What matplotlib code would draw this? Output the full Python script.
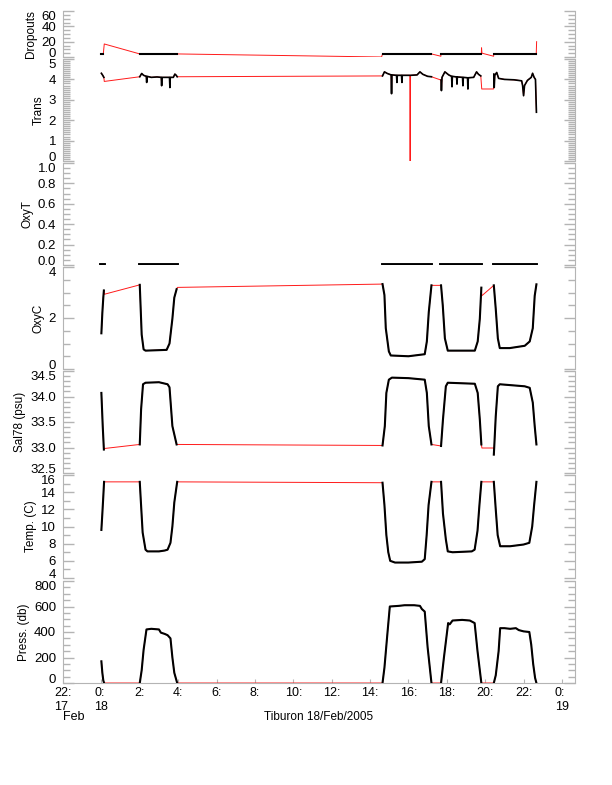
import numpy as np
import matplotlib
matplotlib.use("Agg")
import matplotlib.pyplot as plt
from matplotlib.ticker import MultipleLocator

plt.rcParams['font.family'] = ['Liberation Sans', 'DejaVu Sans']

# hours after 00:00 18/Feb/2005; windows where the instrument logged good data
windows = [(0.0, 0.14), (2.0, 3.95), (14.65, 17.2), (17.7, 19.8), (20.45, 22.67)]

drop_t = [0.0, 0.1, 0.15, 2.0, 2.5, 3.0, 3.5, 3.95, 3.96, 14.6,
          14.65, 15.5, 16.5, 17.2, 17.69, 17.7, 18.5, 19.3, 19.8, 19.81, 19.83, 20.44,
          20.45, 21.5, 22.66, 22.68]
drop_v = [4, 4, 17, 4, 4, 4, 4, 4, 4, 0,
          4, 4, 4, 4, 1, 4, 4, 4, 4, 12, 5, 1,
          4, 4, 4, 20]

trans_t = [0.0, 0.07, 0.13, 0.15,
           2.0, 2.1, 2.2, 2.34, 2.36, 2.38, 2.6, 2.9, 3.12, 3.14, 3.16, 3.4, 3.55, 3.57, 3.59,
           3.75, 3.83, 3.9, 3.95,
           14.65, 14.75, 14.9, 15.1, 15.12, 15.14, 15.38, 15.4, 15.42, 15.64, 15.66, 15.68,
           16.07, 16.09, 16.11, 16.45, 16.6, 16.75, 17.0, 17.2, 17.69,
           17.7, 17.72, 17.75, 17.9, 18.1, 18.25, 18.27, 18.29, 18.51, 18.53, 18.55,
           18.82, 18.84, 18.86, 19.08, 19.1, 19.12, 19.4, 19.55, 19.65, 19.77, 19.82, 20.43,
           20.45, 20.47, 20.5, 20.6, 20.7, 21.0, 21.5, 21.9, 21.95, 22.0, 22.05, 22.2,
           22.4, 22.47, 22.55, 22.62, 22.67]
trans_v = [4.3, 4.2, 4.1, 3.9,
           4.13, 4.29, 4.2, 4.15, 3.85, 4.15, 4.1, 4.12, 4.1, 3.69, 4.1, 4.1, 4.1, 3.6, 4.1,
           4.1, 4.26, 4.2, 4.13,
           4.17, 4.37, 4.29, 4.22, 3.3, 4.22, 4.2, 3.85, 4.2, 4.2, 3.85, 4.2,
           4.2, 0.0, 4.2, 4.22, 4.37, 4.25, 4.15, 4.13, 3.97,
           3.97, 3.45, 4.1, 4.37, 4.22, 4.15, 3.64, 4.15, 4.12, 3.77, 4.12,
           4.1, 3.69, 4.1, 4.08, 3.53, 4.08, 4.1, 4.37, 4.25, 4.17, 3.53, 3.53,
           4.26, 3.6, 4.2, 4.34, 4.05, 4.0, 3.98, 3.93, 3.7, 3.2, 3.7, 3.95,
           4.1, 4.3, 4.1, 4.0, 2.39]
trans_red_only = [16.09]

oxyt_t = [0.0, 0.14, 2.0, 3.95, 14.65, 17.2, 17.7, 19.8, 20.45, 22.67]
oxyt_v = [0, 0, 0, 0, 0, 0, 0, 0, 0, 0]

oxyc_t = [0.0, 0.05, 0.10, 0.13, 0.15,
          2.0, 2.1, 2.2, 2.3, 3.4, 3.55, 3.7, 3.8, 3.92, 3.96,
          14.65, 14.75, 14.82, 14.98, 15.08, 16.0, 16.85, 16.96, 17.06, 17.2,
          17.7, 17.79, 17.9, 18.05, 19.46, 19.61, 19.72, 19.8, 19.82,
          20.45, 20.55, 20.66, 20.76, 21.28, 22.06, 22.32, 22.48, 22.58, 22.67]
oxyc_v = [1.4, 2.2, 2.8, 3.08, 2.93,
          3.3, 1.35, 0.77, 0.72, 0.75, 1.0, 1.97, 2.8, 3.13, 3.2,
          3.33, 2.9, 1.6, 0.69, 0.53, 0.5, 0.58, 1.08, 2.23, 3.28,
          3.28, 2.49, 1.2, 0.72, 0.72, 1.08, 1.97, 3.19, 2.87,
          3.28, 2.36, 1.2, 0.82, 0.82, 0.91, 1.08, 1.6, 2.87, 3.32]

sal_t = [0.0, 0.07, 0.13, 0.15,
         2.0, 2.07, 2.17, 2.3, 3.0, 3.45, 3.55, 3.7, 3.92,
         14.65, 14.77, 14.85, 14.98, 15.14, 16.0, 16.85, 16.96, 17.06, 17.2,
         17.7, 17.8, 17.95, 18.05, 19.46, 19.61, 19.72, 19.8, 19.83, 20.44,
         20.45, 20.47, 20.55, 20.66, 20.76, 22.06, 22.32, 22.48, 22.58, 22.67]
sal_v = [34.07, 33.42, 32.96, 32.98,
         33.06, 33.75, 34.24, 34.27, 34.28, 34.24, 34.18, 33.42, 33.06,
         33.04, 33.42, 34.07, 34.33, 34.37, 34.36, 34.33, 34.07, 33.42, 33.06,
         33.03, 33.55, 34.2, 34.27, 34.25, 34.07, 33.55, 33.06, 32.99, 32.99,
         32.86, 33.0, 33.61, 34.2, 34.24, 34.2, 34.17, 33.88, 33.42, 33.06]

temp_t = [0.0, 0.05, 0.10, 0.14,
          2.0, 2.05, 2.15, 2.3, 2.4, 3.0, 3.3, 3.45, 3.6, 3.7, 3.8, 3.95,
          14.65, 14.75, 14.85, 14.95, 15.05, 15.3, 16.0, 16.7, 16.85, 16.95, 17.05, 17.2,
          17.7, 17.8, 17.95, 18.05, 18.3, 19.3, 19.45, 19.6, 19.7, 19.8,
          20.45, 20.55, 20.65, 20.78, 21.3, 22.0, 22.3, 22.45, 22.55, 22.67]
temp_v = [9.6, 11.5, 13.5, 15.2,
          15.2, 13.2, 9.3, 7.3, 7.1, 7.1, 7.2, 7.3, 8.1, 10.0, 12.8, 15.2,
          15.1, 12.5, 9.0, 7.0, 6.0, 5.8, 5.8, 5.9, 6.2, 9.0, 12.5, 15.2,
          15.2, 11.5, 8.5, 7.1, 7.0, 7.1, 7.3, 9.5, 12.5, 15.2,
          15.2, 12.0, 9.0, 7.7, 7.7, 7.9, 8.1, 10.0, 12.5, 15.2]

press_t = [0.0, 0.05, 0.10, 0.14,
           2.0, 2.1, 2.2, 2.35, 2.6, 3.0, 3.1, 3.3, 3.45, 3.6, 3.7, 3.8, 3.95,
           14.65, 14.75, 14.9, 15.03, 15.5, 15.8, 16.3, 16.6, 16.7, 16.85, 17.0, 17.2,
           17.7, 17.85, 18.07, 18.15, 18.3, 18.8, 19.2, 19.45, 19.6, 19.8,
           20.45, 20.55, 20.7, 20.78, 21.0, 21.3, 21.6, 21.75, 22.0, 22.3, 22.4, 22.5, 22.6, 22.67]
press_v = [170, 80, 20, 0,
           0, 100, 260, 420, 425, 420, 395, 385, 375, 350, 200, 80, 0,
           0, 120, 380, 600, 605, 610, 610, 605, 580, 560, 280, 0,
           0, 200, 470, 460, 490, 495, 490, 470, 250, 0,
           0, 60, 250, 430, 430, 425, 430, 415, 405, 400, 300, 150, 40, 0]

panels = [
    # label, t, v, red only, ylim, major, minor, pixel top, pixel bottom
    ('Dropouts', drop_t, drop_v, [], (0, 60), [0, 20, 40, 60], 5, 11, 57),
    ('Trans', trans_t, trans_v, trans_red_only, (0, 5), [0, 1, 2, 3, 4, 5], 0.1, 59, 161),
    ('OxyT', oxyt_t, oxyt_v, [], (0, 1), [0, 0.2, 0.4, 0.6, 0.8, 1.0], 0.05, 163, 265),
    ('OxyC', oxyc_t, oxyc_v, [], (0, 4), [0, 2, 4], 0.5, 267, 369),
    ('Sal78 (psu)', sal_t, sal_v, [], (32.5, 34.5), [32.5, 33.0, 33.5, 34.0, 34.5], 0.1, 371, 473),
    ('Temp. (C)', temp_t, temp_v, [], (4, 16), [4, 6, 8, 10, 12, 14, 16], 1, 475, 578),
    ('Press. (db)', press_t, press_v, [], (0, 800), [0, 200, 400, 600, 800], 50, 581, 683),
]
tick_fmt = {'OxyT': '{:.1f}', 'Sal78 (psu)': '{:.1f}'}

xticks = list(range(-2, 25, 2))
xlabels = ['22:\n17', '0:\n18'] + ['%d:' % h for h in range(2, 24, 2)] + ['0:\n19']

W, H = 612, 785
gray = '#b4b4b4'
fig = plt.figure(figsize=(W / 100, H / 100), dpi=100)

for i, (lab, t, v, red_only, ylim, major, minor, top, bot) in enumerate(panels):
    ax = fig.add_axes([63 / W, 1 - bot / H, (575 - 63) / W, (bot - top) / H])
    t = np.array(t, float)
    v = np.array(v, float)
    ax.plot(t, v, color='#ff1a1a', lw=0.7, zorder=2)
    keep = np.ones(len(t), bool)
    for r in red_only:
        keep &= ~np.isclose(t, r)
    lw = 2.8 if lab == 'OxyT' else (1.2 if lab == 'Trans' else 1.5)
    for a, b in windows:
        m = keep & (t >= a - 1e-6) & (t <= b + 1e-6)
        ax.plot(t[m], v[m], color='black', lw=lw, zorder=3)

    ax.set_xlim(-2, 24.68)
    ax.set_ylim(*ylim)
    ax.set_yticks(major)
    fmt = tick_fmt.get(lab, '{:g}')
    ax.set_yticklabels([fmt.format(m) for m in major])
    ax.yaxis.set_minor_locator(MultipleLocator(minor))
    lbls = ax.get_yticklabels()
    if major[0] == ylim[0]:
        lbls[0].set_va('baseline')
    if major[-1] == ylim[1]:
        lbls[-1].set_va('top')
    ax.tick_params(axis='y', which='both', direction='in', left=True, right=True,
                   color=gray, labelcolor='black', labelsize=9.5, pad=5)
    ax.tick_params(axis='y', which='major', length=8, width=1)
    ax.tick_params(axis='y', which='minor', length=5, width=1)
    ax.set_ylabel(lab, fontsize=8.5, labelpad=3)
    for s in ('left', 'right'):
        ax.spines[s].set_color(gray)
    ax.spines['top'].set_visible(False)
    ax.spines['bottom'].set_visible(i == len(panels) - 1)
    ax.spines['bottom'].set_color(gray)
    ax.set_facecolor('none')
    if i < len(panels) - 1:
        ax.set_xticks([])
    else:
        ax.set_xticks(xticks)
        ax.set_xticklabels(xlabels, fontsize=9, linespacing=1.15, ma='left')
        ax.tick_params(axis='x', direction='in', length=3, color=gray, pad=3)

fig.text(63 / W, 1 - 717 / H, 'Feb', fontsize=9, ha='left', va='center')
fig.text(319 / W, 1 - 717 / H, 'Tiburon 18/Feb/2005', fontsize=8.5, ha='center', va='center')
fig.savefig('out.png', dpi=100)
